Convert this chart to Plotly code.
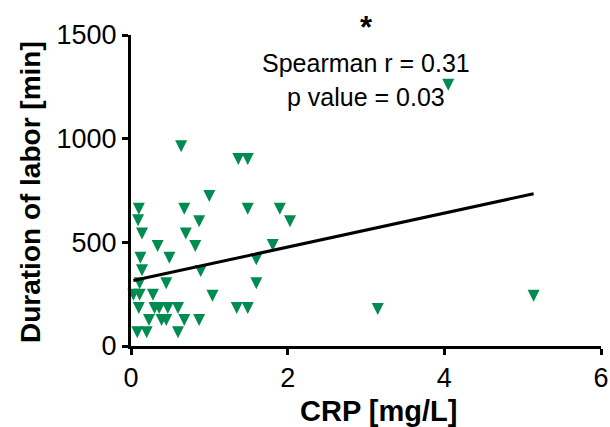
import plotly.graph_objects as go

crp = [0.64, 1.37, 1.49, 1.00, 0.10, 0.68, 1.49, 1.90, 0.09, 0.87, 2.03, 0.14, 0.70,
       0.34, 0.82, 1.81, 0.12, 0.49, 1.60, 0.14, 0.89, 0.11, 0.45, 1.60, 0.03, 0.11,
       0.28, 1.04, 0.10, 0.30, 0.36, 0.47, 0.60, 1.35, 1.49, 0.23, 0.39, 0.45, 0.68,
       0.87, 0.08, 0.20, 0.60, 3.15, 5.14, 4.05]
duration = [963, 902, 902, 723, 662, 662, 662, 662, 607, 602, 602, 543, 543,
            482, 482, 487, 426, 426, 418, 365, 362, 303, 303, 303, 247, 247,
            247, 242, 183, 183, 183, 183, 183, 183, 183, 125, 125, 125, 125,
            125, 66, 66, 66, 178, 242, 1260]

fit_slope = 82.0
fit_intercept = 313.0

x_ticks = [0, 2, 4, 6]
y_ticks = [0, 500, 1000, 1500]

x_title = "CRP [mg/L]"
y_title = "Duration of labor [min]"
stat_lines = ["Spearman r = 0.31", "p value = 0.03"]
sig_mark = "*"

fx = [min(crp), max(crp)]
fy = [fit_intercept + fit_slope * v for v in fx]

FONT = "Arial, Liberation Sans, sans-serif"
MS = 12

fig = go.Figure()
fig.add_trace(go.Scatter(x=crp, y=duration, mode="markers",
                         marker=dict(symbol="arrow-down", size=MS, standoff=MS / 2,
                                     color="#008C50", line=dict(width=0)),
                         showlegend=False, cliponaxis=False))
fig.add_trace(go.Scatter(x=fx, y=fy, mode="lines",
                         line=dict(color="black", width=3), showlegend=False))

axis_common = dict(showline=True, linecolor="black", linewidth=3, ticks="outside",
                   ticklen=6, tickwidth=3, tickcolor="black", showgrid=False,
                   zeroline=False, tickfont=dict(family=FONT, size=27, color="black"),
                   mirror=False, automargin=False)

fig.update_xaxes(range=[0, 6], tickvals=x_ticks, ticktext=[str(v) for v in x_ticks],
                 **axis_common)
fig.update_yaxes(range=[0, 1500], tickvals=y_ticks, ticktext=[str(v) for v in y_ticks],
                 **axis_common)

ann_common = dict(xref="paper", yref="paper", showarrow=False,
                  xanchor="center", yanchor="middle")
fig.add_annotation(x=0.502, y=1.025, text="<b>" + sig_mark + "</b>",
                   font=dict(family=FONT, size=31, color="black"), **ann_common)
fig.add_annotation(x=0.5, y=0.91, text=stat_lines[0],
                   font=dict(family=FONT, size=25, color="black"), **ann_common)
fig.add_annotation(x=0.5, y=0.801, text=stat_lines[1],
                   font=dict(family=FONT, size=25, color="black"), **ann_common)
fig.add_annotation(x=0.526, y=-0.209, text="<b>" + x_title + "</b>",
                   font=dict(family=FONT, size=29, color="black"), **ann_common)
fig.add_annotation(x=-0.215, y=0.495, text="<b>" + y_title + "</b>", textangle=-90,
                   font=dict(family=FONT, size=28, color="black"), **ann_common)

fig.update_layout(width=610, height=427, margin=dict(l=131, r=9, t=35, b=81),
                  paper_bgcolor="white", plot_bgcolor="white",
                  font=dict(family=FONT, color="black"))

fig.write_html("out.html", config={"displayModeBar": False},
               post_script="document.body.style.margin='0';")
